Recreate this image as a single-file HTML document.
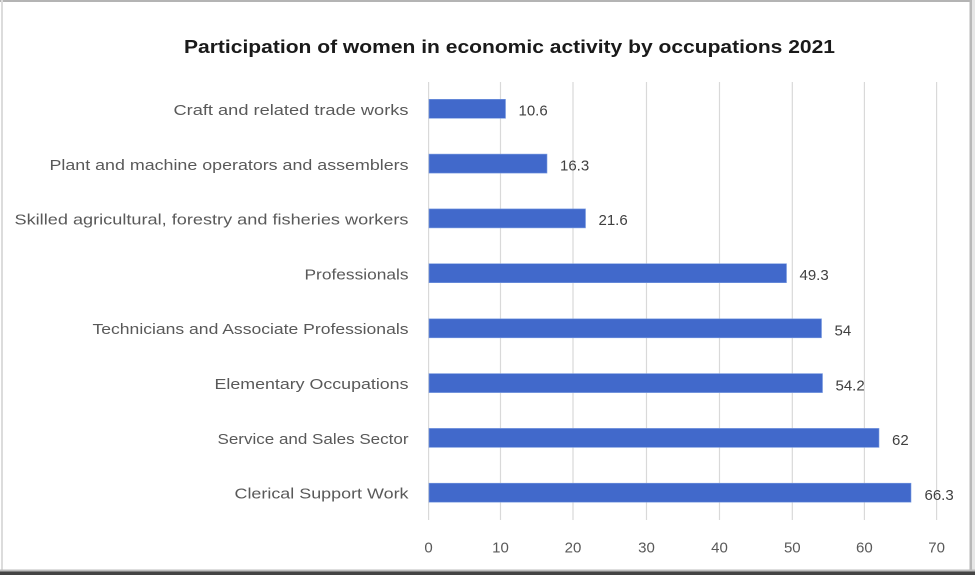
<!DOCTYPE html>
<html>
<head>
<meta charset="utf-8">
<style>
  html, body { margin:0; padding:0; background:#fff; }
  svg { display:block; }
  text { font-family: "Liberation Sans", "DejaVu Sans", sans-serif; }
</style>
</head>
<body>
<svg width="975" height="575" viewBox="0 0 975 575" xmlns="http://www.w3.org/2000/svg">
  <rect x="0" y="0" width="975" height="575" fill="#ffffff"/>
  <!-- frame -->
  <rect x="0" y="0" width="975" height="2" fill="#b4b4b4"/>
  <rect x="1" y="0" width="2" height="575" fill="#dcdcdc"/>
  <rect x="969.5" y="0" width="2.5" height="575" fill="#b8b8b8"/>
  <rect x="972" y="0" width="3" height="575" fill="#e6e6e6"/>
  <rect x="0" y="569.5" width="975" height="2" fill="#bdbdbd"/>
  <rect x="0" y="571.5" width="975" height="3.5" fill="#444444"/>

  <!-- title -->
  <text x="184" y="53" font-size="18.5" font-weight="bold" fill="#1a1a1a" textLength="651" lengthAdjust="spacingAndGlyphs">Participation of women in economic activity by occupations 2021</text>

  <!-- gridlines -->
  <g stroke="#d9d9d9" stroke-width="1.2">
    <line x1="428.6" y1="82" x2="428.6" y2="520"/>
    <line x1="500.5" y1="82" x2="500.5" y2="520"/>
    <line x1="573" y1="82" x2="573" y2="520"/>
    <line x1="646.5" y1="82" x2="646.5" y2="520"/>
    <line x1="719.5" y1="82" x2="719.5" y2="520"/>
    <line x1="792.3" y1="82" x2="792.3" y2="520"/>
    <line x1="864.4" y1="82" x2="864.4" y2="520"/>
    <line x1="936.6" y1="82" x2="936.6" y2="520"/>
  </g>

  <!-- bars -->
  <g fill="#4169CB" stroke="#7a9be0" stroke-width="0.6">
    <rect x="429" y="99.3" width="76.5" height="19"/>
    <rect x="429" y="154.1" width="118" height="19"/>
    <rect x="429" y="208.9" width="156.5" height="19"/>
    <rect x="429" y="263.7" width="357.5" height="19"/>
    <rect x="429" y="318.8" width="392.5" height="19"/>
    <rect x="429" y="373.6" width="393.5" height="19"/>
    <rect x="429" y="428.4" width="450" height="19"/>
    <rect x="429" y="483.2" width="482" height="19"/>
  </g>

  <!-- category labels -->
  <g font-size="15" fill="#595959" text-anchor="end">
    <text x="408.5" y="115" textLength="235" lengthAdjust="spacingAndGlyphs">Craft and related trade works</text>
    <text x="408.5" y="169.8" textLength="359" lengthAdjust="spacingAndGlyphs">Plant and machine operators and assemblers</text>
    <text x="408.5" y="224.6" textLength="394" lengthAdjust="spacingAndGlyphs">Skilled agricultural, forestry and fisheries workers</text>
    <text x="408.5" y="279.4" textLength="104" lengthAdjust="spacingAndGlyphs">Professionals</text>
    <text x="408.5" y="334.2" textLength="316" lengthAdjust="spacingAndGlyphs">Technicians and Associate Professionals</text>
    <text x="408.5" y="389" textLength="194" lengthAdjust="spacingAndGlyphs">Elementary Occupations</text>
    <text x="408.5" y="443.8" textLength="191" lengthAdjust="spacingAndGlyphs">Service and Sales Sector</text>
    <text x="408.5" y="498.6" textLength="174" lengthAdjust="spacingAndGlyphs">Clerical Support Work</text>
  </g>

  <!-- value labels -->
  <g font-size="15" fill="#404040">
    <text x="518.5" y="115.5">10.6</text>
    <text x="560" y="170.3">16.3</text>
    <text x="598.5" y="225.1">21.6</text>
    <text x="799.5" y="279.9">49.3</text>
    <text x="834.5" y="335.5">54</text>
    <text x="835.5" y="390.3">54.2</text>
    <text x="892" y="445.1">62</text>
    <text x="924.5" y="499.9">66.3</text>
  </g>

  <!-- axis tick labels -->
  <g font-size="15" fill="#595959" text-anchor="middle">
    <text x="428.6" y="552.5">0</text>
    <text x="500.5" y="552.5">10</text>
    <text x="573" y="552.5">20</text>
    <text x="646.5" y="552.5">30</text>
    <text x="719.5" y="552.5">40</text>
    <text x="792.3" y="552.5">50</text>
    <text x="864.4" y="552.5">60</text>
    <text x="936.6" y="552.5">70</text>
  </g>
</svg>
</body>
</html>
